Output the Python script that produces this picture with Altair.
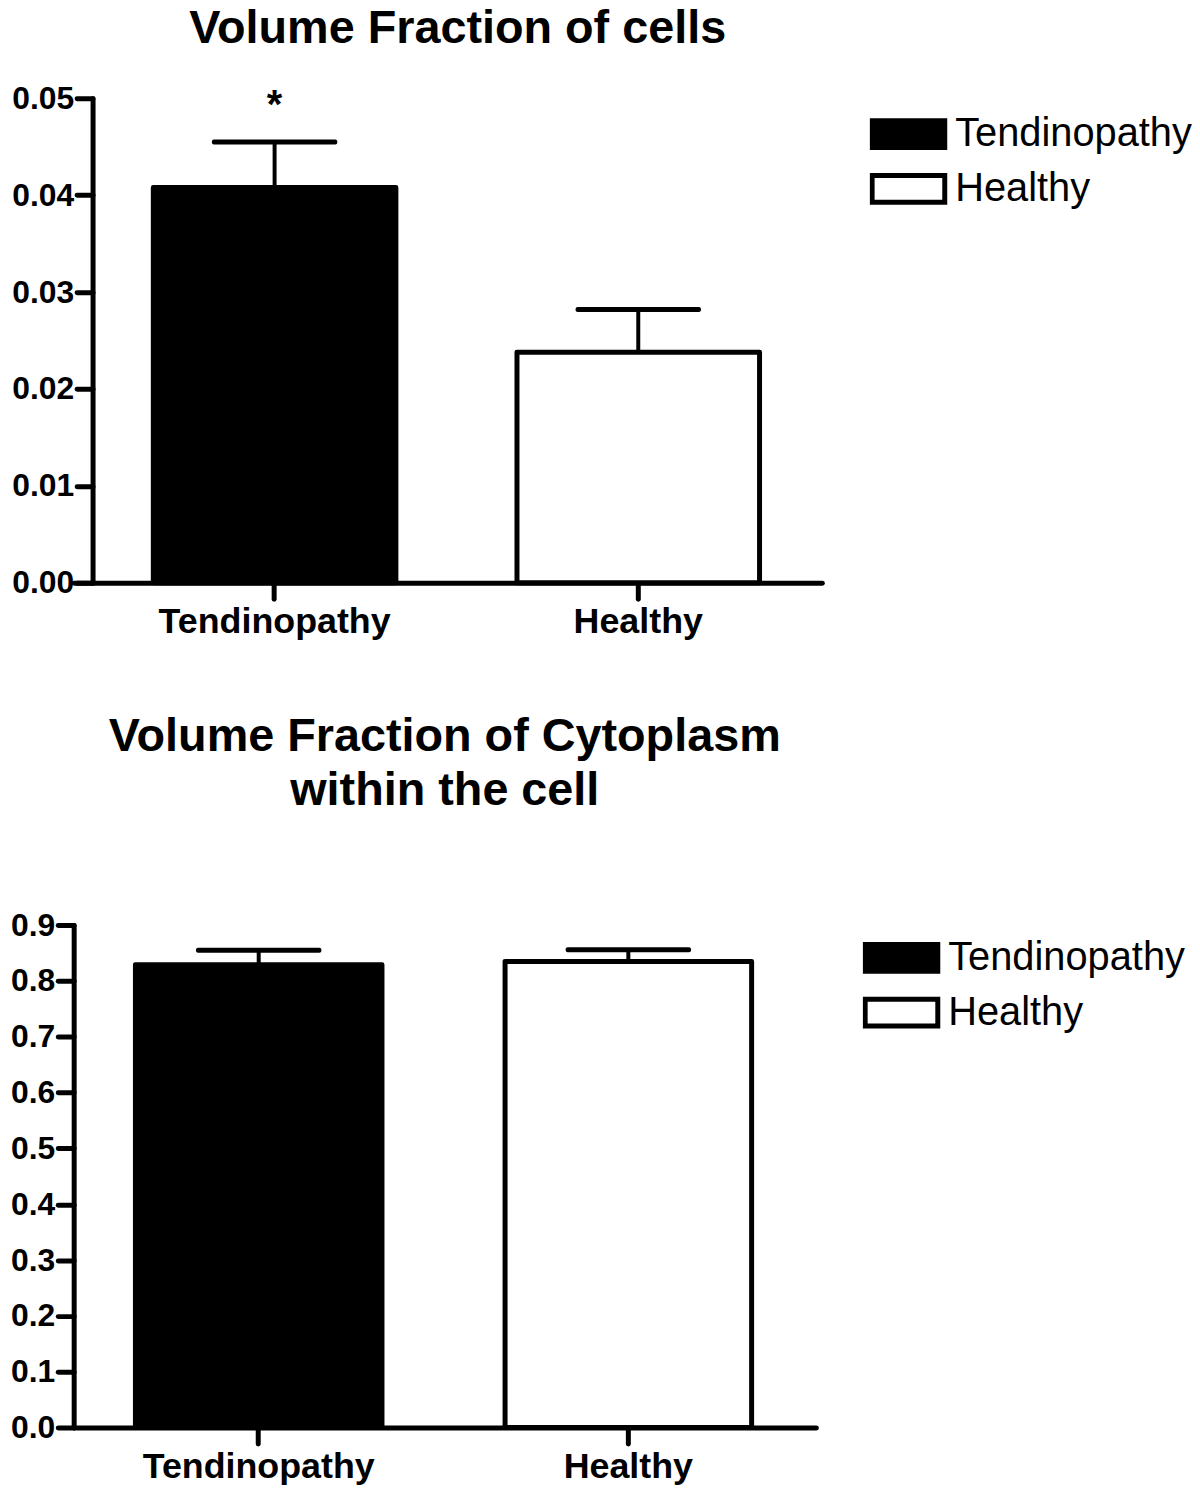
import altair as alt
import pandas as pd

groups = ["Tendinopathy", "Healthy"]
fill_colors = ["black", "white"]

cells_mean = [0.0408, 0.0238]
cells_upper = [0.0455, 0.0282]
cells_star = ["*", ""]
cells_ticks = [0.00, 0.01, 0.02, 0.03, 0.04, 0.05]

cyto_mean = [0.829, 0.835]
cyto_upper = [0.855, 0.856]
cyto_star = ["", ""]
cyto_ticks = [0.0, 0.1, 0.2, 0.3, 0.4, 0.5, 0.6, 0.7, 0.8, 0.9]

FONT = "Liberation Sans"


def panel(mean, upper, star, ticks, fmt, width, height, title, yoff, po, al,
          lx, ly, toff, tdx, tlh):
    df = pd.DataFrame({"group": groups, "mean": mean, "upper": upper, "star": star})
    x = alt.X(
        "group:N",
        sort=groups,
        title=None,
        scale=alt.Scale(paddingInner=0.333, paddingOuter=po, align=al),
        axis=alt.Axis(
            labelAngle=0,
            labelFont=FONT,
            labelFontSize=36,
            labelFontWeight="bold",
            labelColor="black",
            labelPadding=6,
            labelLimit=0,
            tickSize=16,
            tickWidth=5,
            tickColor="black",
            tickCap="round",
            domainColor="black",
            domainWidth=5,
            domainCap="round",
        ),
    )
    yscale = alt.Scale(domain=[ticks[0], ticks[-1]], nice=False, zero=True)
    y = alt.Y(
        "mean:Q",
        title=None,
        scale=yscale,
        axis=alt.Axis(
            values=ticks,
            format=fmt,
            offset=yoff,
            labelFont=FONT,
            labelFontSize=32,
            labelFontWeight="bold",
            labelColor="black",
            labelPadding=3,
            labelLimit=0,
            tickSize=16,
            tickWidth=5,
            tickColor="black",
            tickCap="round",
            domainColor="black",
            domainWidth=5,
            domainCap="round",
            minExtent=66,
            maxExtent=66,
        ),
    )
    base = alt.Chart(df).encode(x=x)
    bars = base.mark_bar(stroke="black", strokeWidth=5, strokeJoin="round").encode(
        y=y,
        fill=alt.Fill(
            "group:N",
            sort=groups,
            scale=alt.Scale(domain=groups, range=fill_colors),
            legend=alt.Legend(
                title=None,
                orient="none",
                legendX=lx,
                legendY=ly,
                padding=0,
                symbolType="M-1,-0.37H1V0.37H-1Z",
                symbolSize=5329,
                symbolStrokeColor="black",
                symbolStrokeWidth=5,
                labelFont=FONT,
                labelFontSize=40,
                labelColor="black",
                labelOffset=8,
                labelLimit=0,
                clipHeight=40,
                rowPadding=15,
            ),
        ),
    )
    err = base.mark_rule(color="black", strokeWidth=4, opacity=1).encode(
        y=alt.Y("mean:Q", scale=yscale), y2="upper:Q"
    )
    cap = base.mark_tick(color="black", thickness=5, size=126, cornerRadius=2, opacity=1).encode(
        y=alt.Y("upper:Q", scale=yscale)
    )
    txt = base.mark_text(
        font=FONT, fontSize=40, fontWeight="bold", baseline="alphabetic", dy=-24, color="black"
    ).encode(y=alt.Y("upper:Q", scale=yscale), text="star:N")
    return alt.layer(err, bars, cap, txt).properties(
        width=width,
        height=height,
        title=alt.TitleParams(
            text=title,
            font=FONT,
            fontSize=47,
            fontWeight="bold",
            color="black",
            anchor="middle",
            frame="group",
            baseline="alphabetic",
            lineHeight=tlh,
            offset=toff,
            dx=tdx,
        ),
    )


top = panel(cells_mean, cells_upper, cells_star, cells_ticks, ".2f", 752, 487,
            "Volume Fraction of cells", -19, 0.1952, 0.561, 800, 16, -7, 10, 47)
bottom = panel(cyto_mean, cyto_upper, cyto_star, cyto_ticks, ".1f", 746, 505,
               ["Volume Fraction of Cytoplasm", "within the cell"], 0, 0.1705, 0.49,
               793, 13, 42, 0, 55)

chart = (
    alt.concat(top, bottom, columns=1, spacing=73, align="none")
    .resolve_scale(fill="independent")
    .resolve_legend(fill="independent")
    .properties(padding={"left": 0, "top": -7, "right": 0, "bottom": 0})
    .configure_view(stroke=None)
    .configure_axis(grid=False)
)

chart.save("out.html", embed_options={"renderer": "svg", "actions": False})
